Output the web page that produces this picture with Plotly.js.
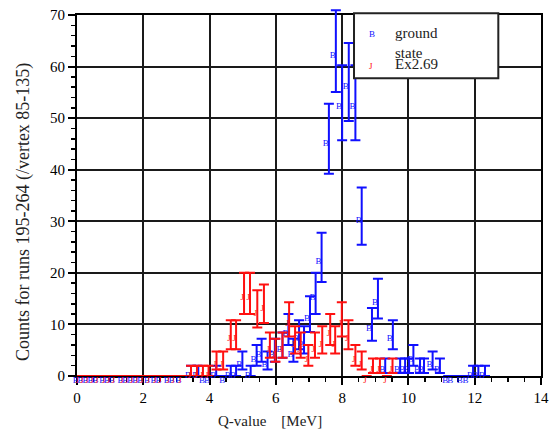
<!DOCTYPE html>
<html>
<head>
<meta charset="utf-8">
<script src="https://cdn.plot.ly/plotly-3.0.1.min.js"></script>
<style>html,body{margin:0;padding:0;background:#fff;}</style>
</head>
<body>
<div id="chart" style="width:552px;height:432px;"></div>
<script>
// Ground state (B, blue): Q-value [MeV] and counts
var groundQ = [0.05,0.2,0.35,0.5,0.65,0.85,1.0,1.15,1.4,1.55,1.7,1.85,2.0,2.2,2.4,2.55,2.8,2.95,3.15,
  3.44,3.66,3.86,4.01,4.2,4.47,4.64,4.8,4.99,5.24,5.42,5.57,5.75,5.97,6.2,6.38,6.53,6.7,6.85,7.03,7.2,7.38,
  7.6,7.81,8.0,8.2,8.4,8.59,8.9,9.08,9.3,9.53,9.75,9.9,10.02,10.15,10.35,10.47,10.73,10.95,
  11.2,11.35,11.64,11.81,11.95,12.11,12.31];
var groundCounts = [0,0,0,0,0,0,0,0,0,0,0,0,0,0,0,0,0,0,0,
  1,1,0,0,1,0,1,1,3,1,4,5,3,5,6,9,5,8,7,12,16,23,
  46,63,53,57,53,31,10,15,2,8,2,2,2,4,2,2,3,2,
  0,0,0,0,1,1,1];

// Excited state Ex 2.69 (J, red)
var excitedQ = [0.05,0.2,0.35,0.5,0.65,0.85,1.0,1.15,1.4,1.55,1.7,1.85,2.0,2.2,2.4,2.55,2.8,2.95,3.15,
  3.44,3.62,3.8,3.97,4.21,4.41,4.64,4.8,5.04,5.22,5.44,5.64,5.82,5.99,6.2,6.4,6.58,6.75,6.98,7.18,7.4,
  7.64,7.79,7.99,8.19,8.4,8.59,8.74,8.93,9.14,9.35,9.52];
var excitedCounts = [0,0,0,0,0,0,0,0,0,0,0,0,0,0,0,0,0,0,0,
  1,1,1,1,3,3,8,8,16,16,13,14,6,5,6,11,7,6,4,6,7,
  9,7,11,8,4,3,0,2,2,0,2];

var xTickVals = [0,2,4,6,8,10,12,14];
var yTickVals = [0,10,20,30,40,50,60,70];

function poisson(arr){ return arr.map(function(v){ return Math.sqrt(v); }); }
function labels(arr, ch){ return arr.map(function(){ return ch; }); }

var BLUE = '#1010ff', RED = '#ff1010';
var SERIF = 'Liberation Serif, Times New Roman, serif';

// frame: plot area 361 px tall; data layer gets 11 px of extra head-room above the frame
var FRAME_H = 361, EXTRA_H = 11;
var yDomTop = FRAME_H / (FRAME_H + EXTRA_H);
var yMax = 70;

var traces = [
  // empty trace that keeps the framed (grid/axes) subplot alive
  {type:'scatter', mode:'markers', x:[null], y:[null], xaxis:'x', yaxis:'y', hoverinfo:'skip', showlegend:false},
  {
    type:'scatter', mode:'text', x:groundQ, y:groundCounts, xaxis:'x2', yaxis:'y2',
    text:labels(groundQ,'B'), textposition:'bottom left',
    textfont:{family:SERIF, size:9, color:BLUE},
    error_y:{type:'data', array:poisson(groundCounts), visible:true, color:BLUE, thickness:2, width:5},
    cliponaxis:false, hoverinfo:'x+y', name:'ground state'
  },
  {
    type:'scatter', mode:'text', x:excitedQ, y:excitedCounts, xaxis:'x2', yaxis:'y2',
    text:labels(excitedQ,'J'), textposition:'bottom left',
    textfont:{family:SERIF, size:9, color:RED},
    error_y:{type:'data', array:poisson(excitedCounts), visible:true, color:RED, thickness:2, width:5},
    cliponaxis:false, hoverinfo:'x+y', name:'Ex2.69'
  }
];

var axisCommon = {
  ticks:'outside', ticklen:7, tickwidth:2, tickcolor:'black',
  showline:true, linewidth:2, linecolor:'black', mirror:true,
  showgrid:true, gridcolor:'#1a1a1a', gridwidth:2, zeroline:false,
  tickfont:{family:SERIF, size:15, color:'black'}
};

var layout = {
  width:552, height:432,
  margin:{l:77, r:11, t:4, b:56, pad:0},
  paper_bgcolor:'white', plot_bgcolor:'rgba(0,0,0,0)',
  showlegend:false,
  font:{family:SERIF, color:'black'},
  xaxis:Object.assign({}, axisCommon, {
    domain:[0,1], anchor:'y',
    range:[0,14], tickmode:'array', tickvals:xTickVals, ticktext:xTickVals.map(String),
    minor:{dtick:0.5, tick0:0, ticks:'outside', ticklen:4, tickwidth:1.5, tickcolor:'black', showgrid:false}
  }),
  yaxis:Object.assign({}, axisCommon, {
    domain:[0, yDomTop], anchor:'x',
    range:[0,yMax], tickmode:'array', tickvals:yTickVals, ticktext:yTickVals.map(String),
    minor:{dtick:2, tick0:0, ticks:'outside', ticklen:4, tickwidth:1.5, tickcolor:'black', showgrid:false}
  }),
  xaxis2:{domain:[0,1], anchor:'y2', range:[0,14], visible:false, fixedrange:true},
  yaxis2:{domain:[0,1], anchor:'x2', range:[0, yMax / yDomTop], visible:false, fixedrange:true},
  shapes:[
    {type:'rect', xref:'paper', yref:'paper', x0:0.597, x1:0.908, y0:0.8003, y1:0.975,
     fillcolor:'white', line:{color:'#222', width:2}, layer:'above'}
  ],
  annotations:[
    {xref:'paper', yref:'paper', x:0.6364, y:0.9194, text:'B', showarrow:false,
     font:{family:SERIF, size:9, color:BLUE}, xanchor:'center', yanchor:'middle'},
    {xref:'paper', yref:'paper', x:0.681, y:0.9220, text:'ground', showarrow:false,
     font:{family:SERIF, size:15, color:'#222'}, xanchor:'left', yanchor:'middle'},
    {xref:'paper', yref:'paper', x:0.681, y:0.8691, text:'state', showarrow:false,
     font:{family:SERIF, size:15, color:'#222'}, xanchor:'left', yanchor:'middle'},
    {xref:'paper', yref:'paper', x:0.633, y:0.8333, text:'J', showarrow:false,
     font:{family:SERIF, size:9, color:RED}, xanchor:'center', yanchor:'middle'},
    {xref:'paper', yref:'paper', x:0.681, y:0.8380, text:'Ex2.69', showarrow:false,
     font:{family:SERIF, size:15, color:'#222'}, xanchor:'left', yanchor:'middle'},
    {xref:'paper', yref:'paper', x:0.2996, y:-0.121, text:'Q-value\u00a0\u00a0\u00a0\u00a0[MeV]', showarrow:false,
     font:{family:SERIF, size:15, color:'#222'}, xanchor:'left', yanchor:'middle'},
    {xref:'paper', yref:'paper', x:-0.114, y:0.4409, text:'Counts for runs 195-264 (/vertex 85-135)', showarrow:false,
     textangle:-90, font:{family:SERIF, size:18, color:'#222'}, xanchor:'center', yanchor:'middle'}
  ]
};

Plotly.newPlot('chart', traces, layout, {displayModeBar:false, staticPlot:true});
</script>
</body>
</html>
